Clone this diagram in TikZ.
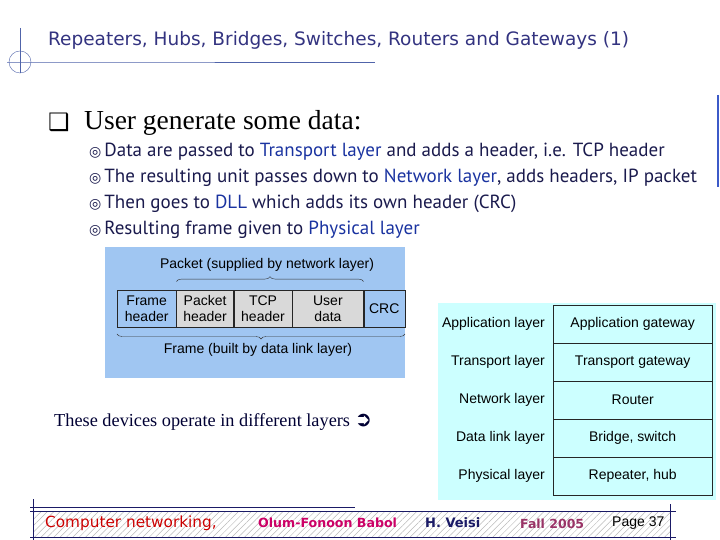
\documentclass[tikz,border=0pt]{standalone}
\usepackage{fontspec}
\setmainfont{Liberation Serif}
\newfontfamily\titlefont{DejaVu Sans}
\newfontfamily\bodyfont{PT Sans}
\newfontfamily\figfont{Liberation Sans}
\newfontfamily\symfont{DejaVu Sans}
\usetikzlibrary{positioning,decorations.pathreplacing,patterns.meta}
\definecolor{titleblue}{RGB}{51,51,128}
\definecolor{decoblue}{RGB}{80,100,170}
\definecolor{textnavy}{RGB}{26,26,77}
\definecolor{hiblue}{RGB}{26,51,160}
\definecolor{framebg}{RGB}{160,198,242}
\definecolor{greycell}{RGB}{217,217,217}
\definecolor{tablebg}{RGB}{204,255,255}
\definecolor{footred}{RGB}{204,0,0}
\definecolor{footmag}{RGB}{204,0,102}
\definecolor{footnavy}{RGB}{26,26,102}
\definecolor{footpurple}{RGB}{153,51,102}
\definecolor{edgeblue}{RGB}{60,90,200}
\tikzset{
    cell/.style={
           rectangle,
           draw=black!85, thin,
           minimum height=37pt,
           inner sep=0pt,
           font=\figfont\fontsize{14}{16}\selectfont,
           align=center,
           },
    layercell/.style={
           cell,
           minimum width=159pt,
           minimum height=37.6pt,
           },
    layername/.style={
           font=\figfont\fontsize{14}{16}\selectfont,
           inner sep=0pt,
           },
    bullet/.style={
           anchor=base west,
           inner sep=0pt,
           text=textnavy,
           font=\bodyfont\fontsize{19}{21}\selectfont,
           },
    curly/.style={
           decorate,
           decoration={brace, amplitude=5pt},
           draw=black!80,
           },
    footline/.style={draw=footnavy, line width=0.8pt},
}

\newcommand{\hi}[1]{\textcolor{hiblue}{#1}}
\newcommand{\bul}{{\symfont\fontsize{14}{14}\selectfont ◎}\hspace{3pt}}

\begin{document}
\begin{tikzpicture}[x=1pt,y=1pt]
 \useasboundingbox (0,0) rectangle (720,540);

 % title
 \draw[decoblue, thin] (20,512) -- (20,467);
 \draw[decoblue, thin] (20,478) circle (11);
 \draw[decoblue, thin] (7,478) -- (58,478) -- (375,478);
 \node[anchor=base west, inner sep=0pt, text=titleblue,
   font=\titlefont\fontsize{18.5}{20}\selectfont] (TT) at (48,494)
   {Repeaters, Hubs, Bridges, Switches, Routers and Gateways (1)};
 \draw[edgeblue, line width=1.2pt] (718,445) -- (718,353);

 % text
 \node[anchor=base west, inner sep=0pt, font=\symfont\fontsize{24}{26}\selectfont] (CB) at (48,409) {❑};
 \node[anchor=base west, inner sep=0pt, font=\fontsize{27.5}{30}\selectfont] (UG) at (84,410)
   {User generate some data:};
 \node[bullet] (B1) at (89,383) {\bul Data are passed to \hi{Transport layer} and adds a header, i.e. TCP header};
 \node[bullet] (B2) at (89,357) {\bul The resulting unit passes down to \hi{Network layer}, adds headers, IP packet};
 \node[bullet] (B3) at (89,331) {\bul Then goes to \hi{DLL} which adds its own header (CRC)};
 \node[bullet] (B4) at (89,305) {\bul Resulting frame given to \hi{Physical layer}};

 % frame
 \fill[framebg] (105,162) rectangle (405,293);
 \node[cell, minimum width=59pt, fill=framebg, anchor=south west] (FH) at (117,213) {Frame\\header};
 \node[cell, minimum width=57pt, fill=greycell, right=0pt of FH] (PH) {Packet\\header};
 \node[cell, minimum width=58pt, fill=greycell, right=0pt of PH] (TH) {TCP\\header};
 \node[cell, minimum width=71pt, fill=greycell, right=0pt of TH] (UD) {User\\data};
 \node[cell, minimum width=41pt, fill=framebg, right=0pt of UD] (CRC) {CRC};
 \draw[curly] ([yshift=8pt]PH.north west) -- ([yshift=8pt]UD.north east);
 \draw[curly] ([yshift=-7pt]CRC.south east) -- ([yshift=-7pt]FH.south west);
 \node[layername] (PK) at (267,275) {Packet (supplied by network layer)};
 \node[layername] (FR) at (258,190) {Frame (built by data link layer)};

 \node[anchor=base west, inner sep=0pt, text={rgb,255:red,0;green,0;blue,51},
   font=\fontsize{18.3}{20}\selectfont] (DV) at (54,113)
   {These devices operate in different layers {\symfont\fontsize{21}{21}\selectfont ➲}};

 % layers
 \fill[tablebg] (438,40) rectangle (716,237);
 \node[layercell, anchor=north west] (AG) at (553,235) {Application gateway};
 \node[layercell, below=0pt of AG] (TG) {Transport gateway};
 \node[layercell, below=0pt of TG] (RT) {Router};
 \node[layercell, below=0pt of RT] (BS) {Bridge, switch};
 \node[layercell, below=0pt of BS] (RH) {Repeater, hub};
 \node[layername, left=8pt of AG] (AL) {Application layer};
 \node[layername, left=8pt of TG] (TL) {Transport layer};
 \node[layername, left=8pt of RT] (NL) {Network layer};
 \node[layername, left=8pt of BS] (DL) {Data link layer};
 \node[layername, left=8pt of RH] (PL) {Physical layer};

 % footer
 \node[rectangle, minimum width=637pt, minimum height=25pt, inner sep=0pt,
   pattern={Lines[angle=45, distance=4.5pt, line width=0.5pt]}, pattern color=gray!55,
   anchor=south west] (FT) at (33,3) {};
 \draw[footline] (30,33) -- (355,33);
 \draw[footline] ([xshift=-3pt]FT.north west) -- ([xshift=5pt]FT.north east);
 \draw[footline] ([xshift=-3pt]FT.south west) -- ([xshift=5pt]FT.south east);
 \draw[footline] ([yshift=12pt]FT.north west) -- ([yshift=-3pt]FT.south west);
 \draw[footline] ([yshift=7pt]FT.north east) -- ([yshift=-3pt]FT.south east);
 \node[anchor=base west, inner sep=0pt, text=footred, font=\titlefont\fontsize{15.3}{16}\selectfont] (CN) at (45,12) {Computer networking,};
 \node[anchor=base west, inner sep=0pt, text=footmag, font=\titlefont\bfseries\fontsize{12.6}{13}\selectfont] (OF) at (258,12) {Olum-Fonoon Babol};
 \node[anchor=base west, inner sep=0pt, text=footnavy, font=\titlefont\bfseries\fontsize{13}{13}\selectfont] (HV) at (425,12) {H. Veisi};
 \node[anchor=base west, inner sep=0pt, text=footpurple, font=\titlefont\bfseries\fontsize{12.5}{13}\selectfont] (FL) at (520,11) {Fall 2005};
 \node[anchor=base west, inner sep=0pt, font=\figfont\fontsize{14}{15}\selectfont] (PG) at (612,13) {Page 37};

\end{tikzpicture}
\end{document}
